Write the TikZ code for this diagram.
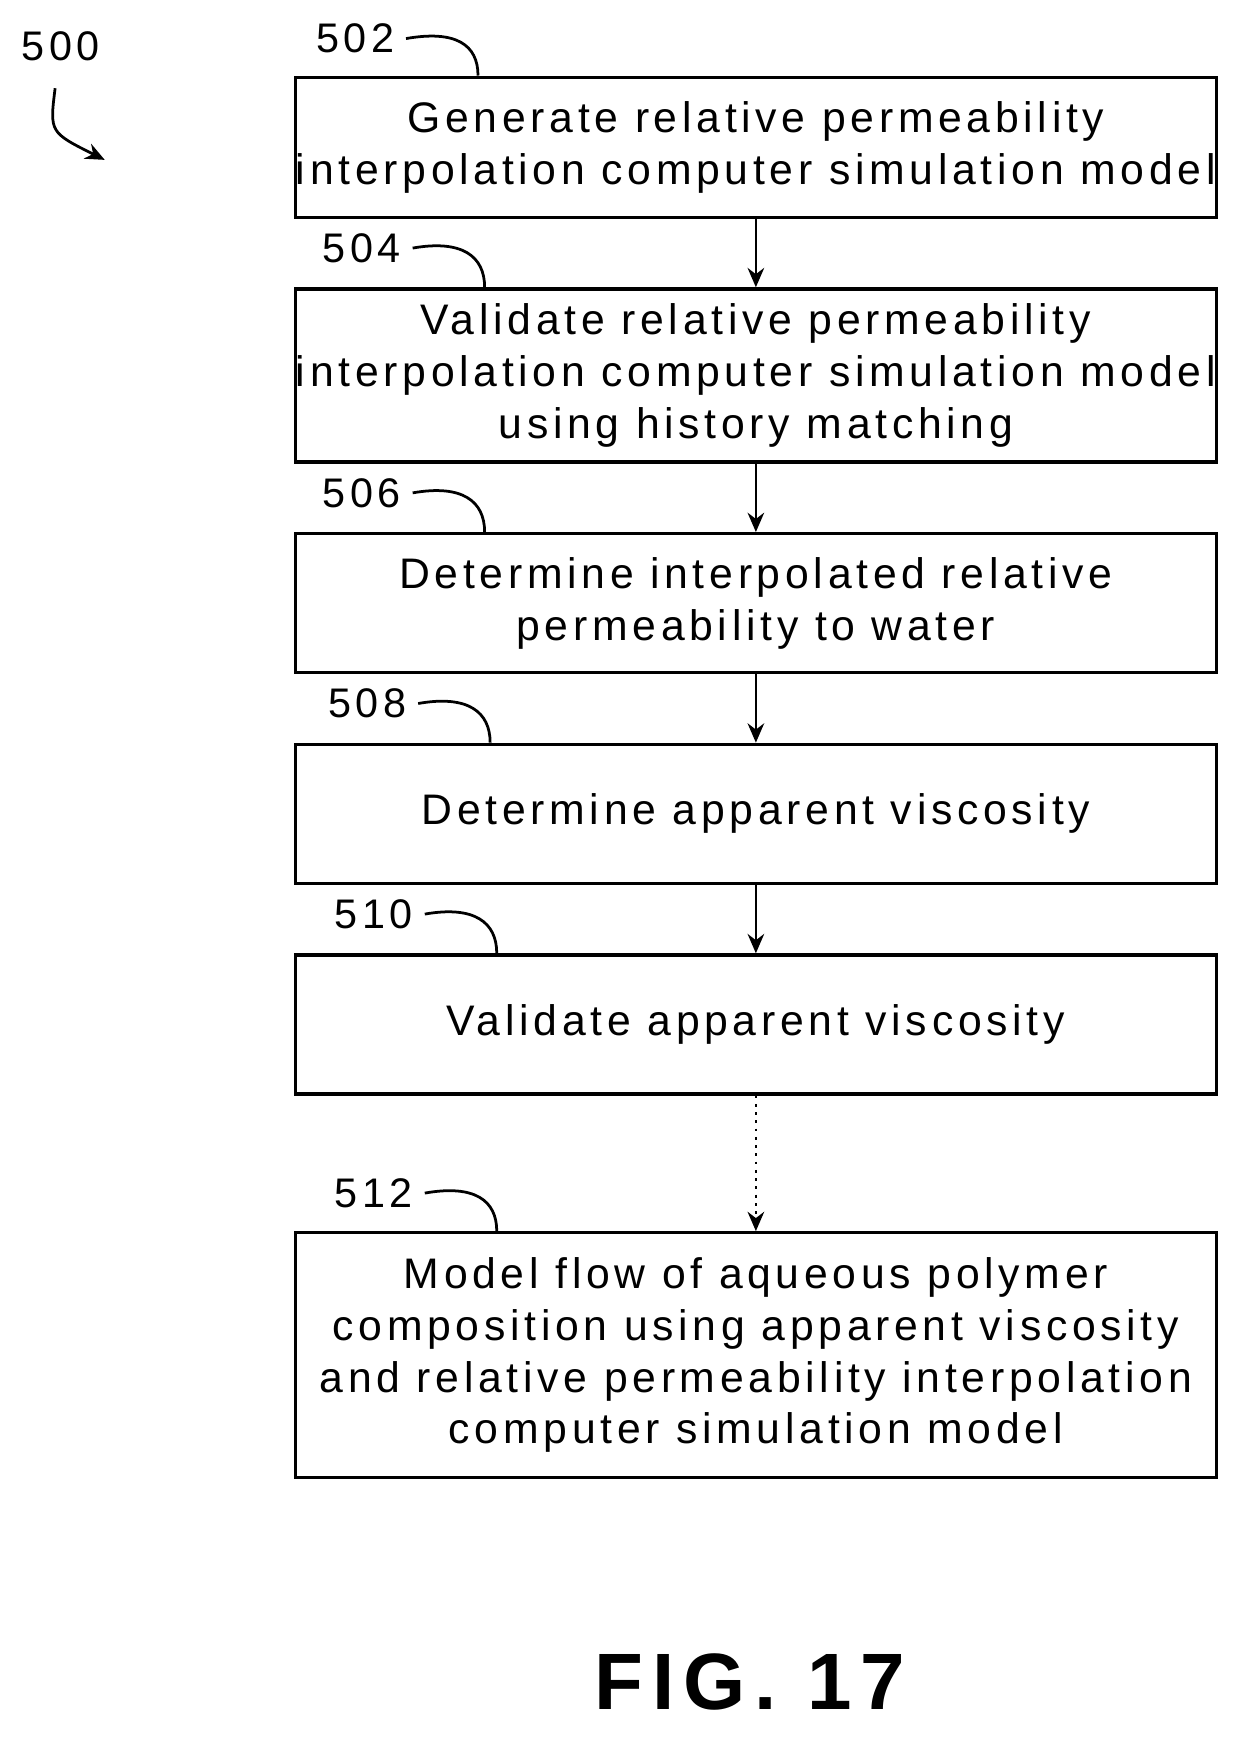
\documentclass[tikz,border=0pt]{standalone}
\usepackage{fontspec}
\setmainfont{Liberation Sans}[LetterSpace=11]
\usetikzlibrary{arrows.meta,positioning,calc}

\begin{document}
\begin{tikzpicture}[
                    x=0.4pt, y=-0.4pt,
                    box/.style={rectangle, draw, line width=1.2pt, minimum width=835*0.4pt, text centered, align=center, font=\fontsize{15.5}{18.8}\selectfont, inner sep=0pt},
                    arrow/.style={-{Stealth[length=7pt,width=6pt]}, line width=1pt},
                    ref/.style={font=\fontsize{15}{16}\selectfont},
                    curl/.style={line width=1pt}
                ]
                    \useasboundingbox (0,0) rectangle (1130,1578);
                    \node[box, minimum height=127*0.4pt] (gen) at (685.5,133.5) {Generate relative permeability\\interpolation computer simulation model};
                    \node[box, minimum height=157*0.4pt] (val) at (685.5,340.5) {Validate relative permeability\\interpolation computer simulation model\\using history matching};
                    \node[box, minimum height=126*0.4pt] (perm) at (685.5,547) {Determine interpolated relative\\permeability to water};
                    \node[box, minimum height=126*0.4pt] (visc) at (685.5,738) {Determine apparent viscosity};
                    \node[box, minimum height=126*0.4pt] (vvisc) at (685.5,929) {Validate apparent viscosity};
                    \node[box, minimum height=222*0.4pt] (flow) at (685.5,1229) {Model flow of aqueous polymer\\composition using apparent viscosity\\and relative permeability interpolation\\computer simulation model};

                    \draw[arrow] (gen) -- (val);
                    \draw[arrow] (val) -- (perm);
                    \draw[arrow] (perm) -- (visc);
                    \draw[arrow] (visc) -- (vvisc);
                    \draw[arrow, dotted] (vvisc) -- (flow);

                    % reference numerals
                    \node[ref] (n500) at (55,42) {500};
                    \coordinate (c500) at (95,145);
                    \draw[arrow] (50,80) .. controls (45,120) .. (c500);
                    \foreach \name/\num/\lx/\ly in {gen/502/322/35, val/504/328/225, perm/506/328/447, visc/508/333/638, vvisc/510/339/829, flow/512/339/1082} {
                        \node[ref] (n\num) at (\lx,\ly) {\num};
                        \draw[curl] (n\num.east) ++(2,0) .. controls ++(45,-8) and ++(0,-28) .. ($(\name.north west)+(\lx-268+113,0)$);
                    }
                    \node[font=\bfseries\fontsize{29}{30}\selectfont] (fig) at (680,1525) {FIG. 17};
                \end{tikzpicture}
\end{document}
